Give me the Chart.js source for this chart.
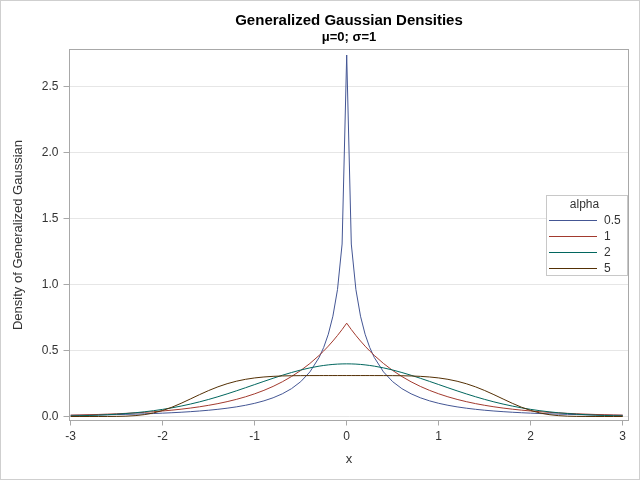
<!DOCTYPE html>
<html>
<head>
<meta charset="utf-8">
<script src="https://cdn.jsdelivr.net/npm/chart.js@4.4.1/dist/chart.umd.min.js"></script>
<style>
  html, body { margin: 0; padding: 0; background: #fff; }
  #wrap { width: 640px; height: 480px; }
</style>
</head>
<body>
<div id="wrap"><canvas id="gaussChart" width="640" height="480"></canvas></div>
<script>
// x grid (finer near the peak at 0)
const xValues = [
  -3, -2.9, -2.8, -2.7, -2.6, -2.5, -2.4, -2.3, -2.2, -2.1, -2, -1.9, -1.8, -1.7, -1.6,
  -1.5, -1.4, -1.3, -1.2, -1.1, -1, -0.9, -0.8, -0.7, -0.6, -0.5, -0.4,
  -0.3, -0.25, -0.2, -0.15, -0.1, -0.05, 0, 0.05, 0.1, 0.15, 0.2, 0.25, 0.3,
  0.4, 0.5, 0.6, 0.7, 0.8, 0.9, 1, 1.1, 1.2, 1.3, 1.4, 1.5, 1.6, 1.7, 1.8, 1.9,
  2, 2.1, 2.2, 2.3, 2.4, 2.5, 2.6, 2.7, 2.8, 2.9, 3
];

const alphaLabels = ["0.5", "1", "2", "5"];

const densAlpha05 = [
  0.0089, 0.0098, 0.0108, 0.0119, 0.0132, 0.0146, 0.0162, 0.0181, 0.0202, 0.0226, 0.0254,
  0.0286, 0.0323, 0.0366, 0.0416, 0.0475, 0.0545, 0.0629, 0.0729, 0.0851, 0.1000, 0.1185,
  0.1419, 0.1718, 0.2109, 0.2637, 0.3376, 0.4469, 0.5234, 0.6233, 0.7600, 0.9616, 1.3065,
  2.7386,
  1.3065, 0.9616, 0.7600, 0.6233, 0.5234, 0.4469, 0.3376, 0.2637, 0.2109, 0.1718, 0.1419,
  0.1185, 0.1000, 0.0851, 0.0729, 0.0629, 0.0545, 0.0475, 0.0416, 0.0366, 0.0323, 0.0286,
  0.0254, 0.0226, 0.0202, 0.0181, 0.0162, 0.0146, 0.0132, 0.0119, 0.0108, 0.0098, 0.0089
];

const densAlpha1 = [
  0.0102, 0.0117, 0.0135, 0.0155, 0.0179, 0.0206, 0.0237, 0.0273, 0.0315, 0.0363, 0.0418,
  0.0481, 0.0555, 0.0639, 0.0736, 0.0848, 0.0976, 0.1125, 0.1296, 0.1492, 0.1719, 0.1980,
  0.2281, 0.2628, 0.3027, 0.3487, 0.4016, 0.4626, 0.4965, 0.5329, 0.5720, 0.6139, 0.6588,
  0.7071,
  0.6588, 0.6139, 0.5720, 0.5329, 0.4965, 0.4626, 0.4016, 0.3487, 0.3027, 0.2628, 0.2281,
  0.1980, 0.1719, 0.1492, 0.1296, 0.1125, 0.0976, 0.0848, 0.0736, 0.0639, 0.0555, 0.0481,
  0.0418, 0.0363, 0.0315, 0.0273, 0.0237, 0.0206, 0.0179, 0.0155, 0.0135, 0.0117, 0.0102
];

const densAlpha2 = [
  0.0044, 0.0060, 0.0079, 0.0104, 0.0136, 0.0175, 0.0224, 0.0283, 0.0355, 0.0440, 0.0540,
  0.0656, 0.0790, 0.0940, 0.1109, 0.1295, 0.1497, 0.1714, 0.1942, 0.2179, 0.2420, 0.2661,
  0.2897, 0.3123, 0.3332, 0.3521, 0.3683, 0.3814, 0.3867, 0.3910, 0.3945, 0.3970, 0.3984,
  0.3989,
  0.3984, 0.3970, 0.3945, 0.3910, 0.3867, 0.3814, 0.3683, 0.3521, 0.3332, 0.3123, 0.2897,
  0.2661, 0.2420, 0.2179, 0.1942, 0.1714, 0.1497, 0.1295, 0.1109, 0.0940, 0.0790, 0.0656,
  0.0540, 0.0440, 0.0355, 0.0283, 0.0224, 0.0175, 0.0136, 0.0104, 0.0079, 0.0060, 0.0044
];

const densAlpha5 = [
  0.0000, 0.0000, 0.0000, 0.0001, 0.0003, 0.0009, 0.0026, 0.0066, 0.0141, 0.0268, 0.0456,
  0.0703, 0.1000, 0.1325, 0.1655, 0.1968, 0.2247, 0.2483, 0.2672, 0.2817, 0.2922, 0.2994,
  0.3042, 0.3071, 0.3088, 0.3096, 0.3100, 0.3101, 0.3102, 0.3102, 0.3102, 0.3102, 0.3102,
  0.3102,
  0.3102, 0.3102, 0.3102, 0.3102, 0.3102, 0.3101, 0.3100, 0.3096, 0.3088, 0.3071, 0.3042,
  0.2994, 0.2922, 0.2817, 0.2672, 0.2483, 0.2247, 0.1968, 0.1655, 0.1325, 0.1000, 0.0703,
  0.0456, 0.0268, 0.0141, 0.0066, 0.0026, 0.0009, 0.0003, 0.0001, 0.0000, 0.0000, 0.0000
];

const xTickValues = [-3, -2, -1, 0, 1, 2, 3];
const yTickValues = [0, 0.5, 1, 1.5, 2, 2.5];

const seriesColors = ["#445694", "#A23A2E", "#01665E", "#543005"];
const fontFamily = '"Liberation Sans", Arial, sans-serif';

function toPoints(values) {
  return xValues.map((x, i) => ({ x: x, y: values[i] }));
}

// white background + thin outer border
const pageBorder = {
  id: "pageBorder",
  beforeDraw(chart) {
    const ctx = chart.ctx;
    ctx.save();
    ctx.fillStyle = "#fff";
    ctx.fillRect(0, 0, chart.width, chart.height);
    ctx.strokeStyle = "#cfcfcf";
    ctx.lineWidth = 1;
    ctx.strokeRect(0.5, 0.5, chart.width - 1, chart.height - 1);
    ctx.restore();
  }
};

// box around the plot area
const plotFrame = {
  id: "plotFrame",
  beforeDatasetsDraw(chart) {
    const a = chart.chartArea;
    const ctx = chart.ctx;
    ctx.save();
    ctx.strokeStyle = "#a8a8a8";
    ctx.lineWidth = 1;
    ctx.strokeRect(a.left, a.top, a.right - a.left, a.bottom - a.top);
    ctx.restore();
  }
};

// legend box inside the plot, right side
const alphaLegend = {
  id: "alphaLegend",
  afterDatasetsDraw(chart) {
    const a = chart.chartArea;
    const ctx = chart.ctx;
    const w = 81, h = 80;
    const x0 = Math.round(a.right - 82.5);
    const y0 = Math.round((a.top + a.bottom) / 2 - h / 2);
    ctx.save();
    ctx.fillStyle = "#fff";
    ctx.fillRect(x0, y0, w, h);
    ctx.strokeStyle = "#c8c8c8";
    ctx.lineWidth = 1;
    ctx.strokeRect(x0 + 0.5, y0 + 0.5, w, h);
    ctx.font = "12px " + fontFamily;
    ctx.fillStyle = "#333";
    ctx.textBaseline = "middle";
    ctx.textAlign = "center";
    ctx.fillText("alpha", x0 + 38.5, y0 + 9.5);
    ctx.textAlign = "left";
    chart.data.datasets.forEach((ds, i) => {
      const y = y0 + 25 + i * 16 + 0.5;
      ctx.strokeStyle = ds.borderColor;
      ctx.beginPath();
      ctx.moveTo(x0 + 3, y);
      ctx.lineTo(x0 + 51, y);
      ctx.stroke();
      ctx.fillText(ds.label, x0 + 58, y);
    });
    ctx.restore();
  }
};

const allSeries = [densAlpha05, densAlpha1, densAlpha2, densAlpha5];

const ctxGauss = document.getElementById("gaussChart").getContext("2d");
const gaussChart = new Chart(ctxGauss, {
  type: "line",
  data: {
    datasets: allSeries.map((vals, i) => ({
      label: alphaLabels[i],
      data: toPoints(vals),
      borderColor: seriesColors[i],
      backgroundColor: seriesColors[i],
      borderWidth: 1,
      pointRadius: 0,
      tension: 0,
      fill: false,
      order: 4 - i
    }))
  },
  options: {
    responsive: false,
    animation: false,
    devicePixelRatio: 1,
    layout: { padding: { top: 0, right: 11.5, bottom: 0, left: 0 } },
    scales: {
      x: {
        type: "linear",
        min: -3.013,
        max: 3.063,
        afterBuildTicks: (scale) => { scale.ticks = xTickValues.map(v => ({ value: v })); },
        afterFit: (scale) => { scale.height = 59.5; },
        grid: { drawOnChartArea: false, drawTicks: true, tickLength: 5, tickColor: "#a8a8a8" },
        border: { display: false },
        ticks: {
          font: { size: 12, family: fontFamily },
          color: "#333",
          padding: 4,
          maxRotation: 0,
          callback: (v) => String(v)
        },
        title: {
          display: true,
          text: "x",
          font: { size: 13, family: fontFamily },
          color: "#333",
          padding: { top: 0, bottom: 13 }
        }
      },
      y: {
        min: -0.0303,
        max: 2.7803,
        afterBuildTicks: (scale) => { scale.ticks = yTickValues.map(v => ({ value: v })); },
        afterFit: (scale) => { scale.width = 69.5; },
        grid: { color: "#e6e6e6", drawTicks: true, tickLength: 6, tickColor: "#a8a8a8" },
        border: { display: false },
        ticks: {
          font: { size: 12, family: fontFamily },
          color: "#333",
          padding: 5,
          callback: (v) => Number(v).toFixed(1)
        },
        title: {
          display: true,
          text: "Density of Generalized Gaussian",
          font: { size: 13, family: fontFamily },
          color: "#333",
          padding: { top: 11, bottom: 0 }
        }
      }
    },
    plugins: {
      legend: { display: false },
      tooltip: { enabled: false },
      title: {
        display: true,
        text: "Generalized Gaussian Densities",
        fullSize: false,
        color: "#000",
        font: { size: 15, weight: "bold", family: fontFamily },
        padding: { top: 12, bottom: 0 }
      },
      subtitle: {
        display: true,
        text: "μ=0; σ=1",
        fullSize: false,
        color: "#000",
        font: { size: 13, weight: "bold", family: fontFamily },
        padding: { top: 0, bottom: 3.9 }
      }
    }
  },
  plugins: [pageBorder, plotFrame, alphaLegend]
});
</script>
</body>
</html>
